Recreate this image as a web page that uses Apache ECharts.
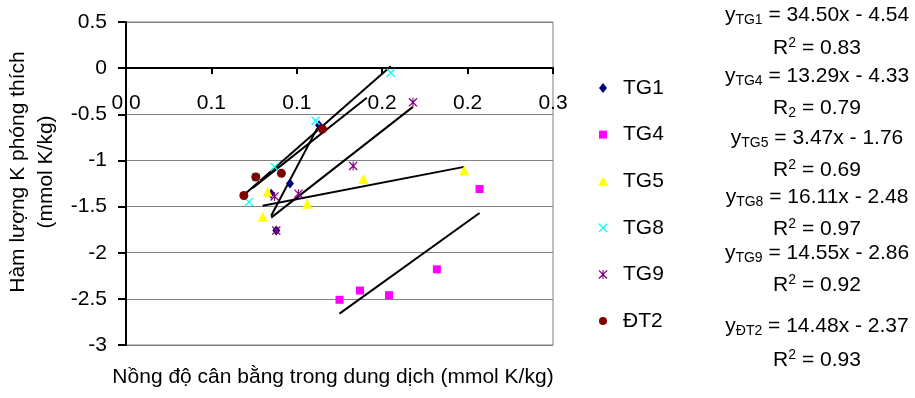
<!DOCTYPE html>
<html>
<head>
<meta charset="utf-8">
<script src="https://cdn.jsdelivr.net/npm/echarts@6/dist/echarts.min.js"></script>
<style>
html,body{margin:0;padding:0;background:#fff;}
#chart{width:915px;height:398px;}
</style>
</head>
<body>
<div id="chart"></div>
<script>
// ---- data ----
const seriesNames = ['TG1', 'TG4', 'TG5', 'TG8', 'TG9', 'ĐT2'];
const tg1X = [0.085, 0.088, 0.096, 0.113];
const tg1Y = [-1.36, -1.76, -1.25, -0.62];
const tg4X = [0.125, 0.137, 0.154, 0.182, 0.207];
const tg4Y = [-2.51, -2.41, -2.46, -2.18, -1.31];
const tg5X = [0.080, 0.083, 0.106, 0.139, 0.198];
const tg5Y = [-1.61, -1.34, -1.47, -1.20, -1.11];
const tg8X = [0.072, 0.076, 0.087, 0.111, 0.155];
const tg8Y = [-1.45, -1.18, -1.07, -0.57, -0.05];
const tg9X = [0.087, 0.088, 0.101, 0.133, 0.168];
const tg9Y = [-1.39, -1.76, -1.36, -1.06, -0.37];
const dt2X = [0.069, 0.076, 0.091, 0.115];
const dt2Y = [-1.38, -1.18, -1.14, -0.66];

// trendline end points
const tg1TrendX = [0.085, 0.112];
const tg1TrendY = [-1.60, -0.65];
const tg4TrendX = [0.125, 0.207];
const tg4TrendY = [-2.66, -1.57];
const tg5TrendX = [0.080, 0.198];
const tg5TrendY = [-1.49, -1.07];
const tg8TrendX = [0.069, 0.155];
const tg8TrendY = [-1.375, 0.02];
const tg9TrendX = [0.085, 0.168];
const tg9TrendY = [-1.62, -0.42];
const dt2TrendX = [0.074, 0.141];
const dt2TrendY = [-1.30, -0.32];

const xTickLabels = ['0.0', '0.1', '0.1', '0.2', '0.2', '0.3'];
const yTickLabels = ['-3', '-2.5', '-2', '-1.5', '-1', '-0.5', '0', '0.5'];

// equation texts (rich markup)
const eqTexts = [
  '{t|y}{s|TG1}{t| = 34.50x - 4.54}',
  '{t|R}{p|2}{t| = 0.83}',
  '{t|y}{s|TG4}{t| = 13.29x - 4.33}',
  '{t|R}{s|2}{t| = 0.79}',
  '{t|y}{s|TG5}{t| = 3.47x - 1.76}',
  '{t|R}{p|2}{t| = 0.69}',
  '{t|y}{s|TG8}{t| = 16.11x - 2.48}',
  '{t|R}{p|2}{t| = 0.97}',
  '{t|y}{s|TG9}{t| = 14.55x - 2.86}',
  '{t|R}{p|2}{t| = 0.92}',
  '{t|y}{s|ĐT2}{t| = 14.48x - 2.37}',
  '{t|R}{p|2}{t| = 0.93}'
];
const eqY = [15, 48, 76, 108, 138, 170, 197, 229, 253, 285, 326, 360];

const FONT = '"Liberation Sans", Arial, sans-serif';

function pairs(xs, ys) { return xs.map((x, i) => [x, ys[i]]); }

const xShape = 'path://M0,1L1,0L10,9L9,10Z M9,0L10,1L1,10L0,9Z';
const starShape = 'path://M0,1L1,0L10,9L9,10Z M9,0L10,1L1,10L0,9Z M4.4,0L5.6,0L5.6,10L4.4,10Z';

const markerDefs = [
  { x: tg1X, y: tg1Y, color: '#000080', symbol: 'diamond', size: [8, 10], legendSize: [8, 10] },
  { x: tg4X, y: tg4Y, color: '#FF00FF', symbol: 'rect', size: 8, legendSize: [8, 8] },
  { x: tg5X, y: tg5Y, color: '#FFFF00', symbol: 'triangle', size: 10, legendSize: [10, 9] },
  { x: tg8X, y: tg8Y, color: '#00FFFF', symbol: xShape, size: 9, legendSize: [9, 9] },
  { x: tg9X, y: tg9Y, color: '#800080', symbol: starShape, size: 9, legendSize: [9, 9] },
  { x: dt2X, y: dt2Y, color: '#800000', symbol: 'circle', size: 9, legendSize: [8, 8] }
];
const trendDefs = [
  [tg1TrendX, tg1TrendY], [tg4TrendX, tg4TrendY], [tg5TrendX, tg5TrendY],
  [tg8TrendX, tg8TrendY], [tg9TrendX, tg9TrendY], [dt2TrendX, dt2TrendY]
];

const series = [];
trendDefs.forEach((t, i) => {
  series.push({
    name: seriesNames[i] + ' trend',
    type: 'line',
    data: pairs(t[0], t[1]),
    symbol: 'none',
    silent: true,
    z: 2,
    lineStyle: { color: '#000', width: 2 }
  });
});
markerDefs.forEach((m, i) => {
  series.push({
    name: seriesNames[i],
    type: 'scatter',
    data: pairs(m.x, m.y),
    symbol: m.symbol,
    symbolSize: m.size,
    symbolKeepAspect: true,
    z: 3,
    itemStyle: { color: m.color, opacity: 1 }
  });
});

const richStyles = {
  t: { fontFamily: FONT, fontSize: 21, lineHeight: 24, fill: '#000', color: '#000' },
  s: { fontFamily: FONT, fontSize: 14, lineHeight: 14, verticalAlign: 'bottom', fill: '#000', color: '#000' },
  p: { fontFamily: FONT, fontSize: 14, lineHeight: 14, verticalAlign: 'top', fill: '#000', color: '#000' }
};

const graphics = eqTexts.map((txt, i) => ({
  type: 'text',
  x: 817,
  y: eqY[i],
  style: {
    text: txt,
    rich: richStyles,
    align: 'center', verticalAlign: 'middle',
    textAlign: 'center', textVerticalAlign: 'middle',
    fill: '#000'
  }
}));
graphics.push({
  type: 'text',
  x: 32,
  y: 172,
  rotation: Math.PI / 2,
  style: {
    text: 'Hàm lượng K phóng thích\n(mmol K/kg)',
    font: '21px ' + FONT,
    lineHeight: 28,
    align: 'center', verticalAlign: 'middle',
    textAlign: 'center', textVerticalAlign: 'middle',
    fill: '#000'
  }
});
graphics.push({
  type: 'text',
  x: 333,
  y: 377,
  style: {
    text: 'Nồng độ cân bằng trong dung dịch (mmol K/kg)',
    font: '21px ' + FONT,
    align: 'center', verticalAlign: 'middle',
    textAlign: 'center', textVerticalAlign: 'middle',
    fill: '#000'
  }
});

// legend built by the library; each legend entry gets its own (small) icon size
const legends = seriesNames.map((name, i) => ({
  data: [{ name: name }],
  orient: 'vertical',
  left: 603 - markerDefs[i].legendSize[0] / 2,
  top: 88 + i * 46.6 - 12,
  itemWidth: markerDefs[i].legendSize[0],
  itemHeight: markerDefs[i].legendSize[1],
  itemGap: 0,
  padding: 0,
  selectedMode: false,
  textStyle: {
    fontSize: 21, color: '#000', fontFamily: FONT, lineHeight: 24,
    padding: [0, 0, 0, 20 - 5 - markerDefs[i].legendSize[0] / 2]
  }
}));

const chart = echarts.init(document.getElementById('chart'), null, { renderer: 'canvas' });
chart.setOption({
  animation: false,
  backgroundColor: '#fff',
  textStyle: { fontFamily: FONT },
  grid: {
    left: 126, right: 362, top: 22, bottom: 53,
    show: true, borderColor: '#808080', borderWidth: 1, backgroundColor: 'transparent'
  },
  xAxis: {
    type: 'value',
    min: 0, max: 0.25, interval: 0.05,
    offset: -277,
    axisLine: { show: true, onZero: false, lineStyle: { color: '#000', width: 2 } },
    axisTick: { show: true, length: 6, lineStyle: { color: '#000', width: 2 } },
    axisLabel: {
      show: true, margin: 25, fontSize: 21, color: '#000', fontFamily: FONT,
      showMinLabel: true, showMaxLabel: true,
      formatter: v => xTickLabels[Math.round(v / 0.05)]
    },
    splitLine: { show: false }
  },
  yAxis: {
    type: 'value',
    min: -3, max: 0.5, interval: 0.5,
    axisLine: { show: true, onZero: false, lineStyle: { color: '#000', width: 2 } },
    axisTick: { show: true, length: 8, lineStyle: { color: '#000', width: 2 } },
    axisLabel: {
      margin: 19, fontSize: 21, color: '#000', fontFamily: FONT,
      showMinLabel: true, showMaxLabel: true,
      formatter: v => yTickLabels[Math.round((v + 3) / 0.5)]
    },
    splitLine: { show: true, lineStyle: { color: '#808080', width: 1 } }
  },
  legend: legends,
  series: series,
  graphic: graphics
});
</script>
</body>
</html>
